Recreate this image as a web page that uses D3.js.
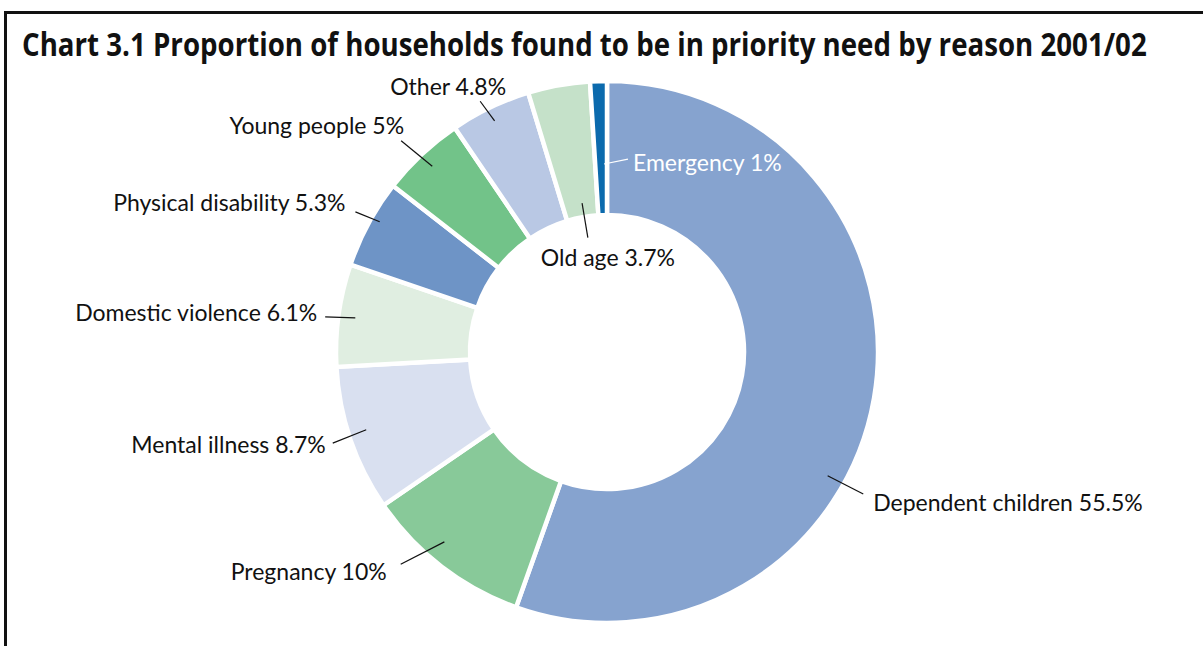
<!DOCTYPE html>
<html>
<head>
<meta charset="utf-8">
<script src="https://cdn.jsdelivr.net/npm/d3@7"></script>
<style>
  html, body { margin: 0; padding: 0; background: #fff; }
  svg { display: block; }
</style>
</head>
<body>
<svg id="chart" width="1203" height="646"></svg>
<script>
// Reasons for priority need, in drawing order (clockwise from 12 o'clock)
const categories = [
  "Dependent children", "Pregnancy", "Mental illness", "Domestic violence",
  "Physical disability", "Young people", "Other", "Old age", "Emergency"
];
// Share of households, per cent
const values = [55.5, 10, 8.7, 6.1, 5.3, 5, 4.8, 3.7, 1];
// Slice fills
const colors = [
  "#86a3cf", "#88c999", "#d9e0f0", "#e0eee1",
  "#6e94c6", "#72c389", "#b9c8e4", "#c5e1c9", "#0b6aad"
];

// Label placement: leader from (mid angle + da0, r0) to (mid angle + da1, r1),
// text offset (dx, dy) from the leader's outer end.
const labelLayout = [
  { da0: 19.5, r0: 253, da1: 19.2, r1: 293, dx: 10, dy: 9, anchor: "start", fill: "#111" },
  { da0: 3.0, r0: 250, da1: 6.6, r1: 296, dx: -14, dy: 8, anchor: "end", fill: "#111" },
  { da0: 0.9, r0: 253, da1: 0.4, r1: 289, dx: -7, dy: 2, anchor: "end", fill: "#111" },
  { da0: -0.1, r0: 254, da1: -0.7, r1: 284, dx: -8, dy: -4, anchor: "end", fill: "#111" },
  { da0: 1.5, r0: 262, da1: 0.8, r1: 288, dx: -10, dy: -9, anchor: "end", fill: "#111" },
  { da0: -0.1, r0: 255, da1: -1.1, r1: 295, dx: 3, dy: -15, anchor: "end", fill: "#111" },
  { da0: -0.4, r0: 257, da1: -1.3, r1: 281, dx: 26, dy: -14, anchor: "end", fill: "#111" },
  { da0: 0.75, r0: 151, da1: 0.75, r1: 116, dx: 20, dy: 20, anchor: "middle", fill: "#111" },
  { da0: 0.9, r0: 188, da1: 8.0, r1: 194, dx: 5, dy: 4, anchor: "start", fill: "#fff" }
];

const svg = d3.select("#chart");
const cx = 607, cy = 352;
const outerR = 271, innerR = 137;

// Frame open on the right and bottom
svg.append("path")
  .attr("d", `M5.5,646 V12.5 H1203`)
  .attr("fill", "none")
  .attr("stroke", "#111")
  .attr("stroke-width", 3);

// Title, condensed horizontally to its set width
const titleWidth = 1125;
const title = svg.append("text")
  .attr("x", 0)
  .attr("y", 0)
  .attr("font-family", "'Liberation Sans Narrow', 'Open Sans', sans-serif")
  .attr("font-weight", "bold")
  .attr("font-size", 32)
  .attr("fill", "#111")
  .text("Chart 3.1 Proportion of households found to be in priority need by reason 2001/02");
const natural = title.node().getComputedTextLength();
title.attr("transform", `translate(22,56) scale(${titleWidth / natural},1)`);

const pie = d3.pie().sort(null).value(d => d)(values);
const arc = d3.arc().innerRadius(innerR).outerRadius(outerR);

const g = svg.append("g").attr("transform", `translate(${cx},${cy})`);

g.selectAll("path.slice")
  .data(pie)
  .join("path")
  .attr("class", "slice")
  .attr("d", arc)
  .attr("fill", (d, i) => colors[i])
  .attr("stroke", "#fff")
  .attr("stroke-width", 4.5)
  .attr("stroke-linejoin", "miter");

const rad = Math.PI / 180;
const polar = (a, r) => [r * Math.sin(a), -r * Math.cos(a)];

pie.forEach((d, i) => {
  const L = labelLayout[i];
  const mid = (d.startAngle + d.endAngle) / 2;
  const p0 = polar(mid + L.da0 * rad, L.r0);
  const p1 = polar(mid + L.da1 * rad, L.r1);
  g.append("line")
    .attr("x1", p0[0]).attr("y1", p0[1])
    .attr("x2", p1[0]).attr("y2", p1[1])
    .attr("stroke", L.fill)
    .attr("stroke-width", 1.2);
  g.append("text")
    .attr("x", p1[0] + L.dx)
    .attr("y", p1[1] + L.dy)
    .attr("dy", "0.35em")
    .attr("text-anchor", L.anchor)
    .attr("font-family", "Lato, 'Open Sans', sans-serif")
    .attr("font-size", 23)
    .attr("fill", L.fill)
    .text(`${categories[i]} ${values[i]}%`);
});
</script>
</body>
</html>
